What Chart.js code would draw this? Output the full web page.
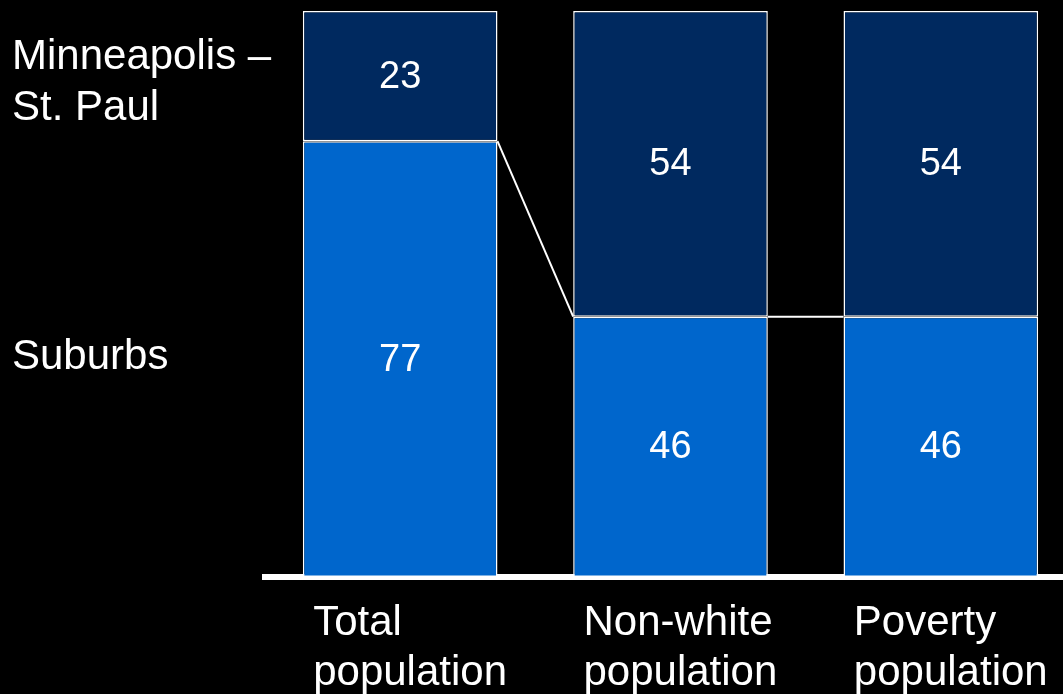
<!DOCTYPE html>
<html>
<head>
<meta charset="utf-8">
<script src="https://cdn.jsdelivr.net/npm/chart.js@4/dist/chart.umd.min.js"></script>
<style>
  html, body { margin: 0; padding: 0; background: #000; overflow: hidden; }
  #wrap { width: 1063px; height: 694px; overflow: hidden; }
  canvas { display: block; }
</style>
</head>
<body>
<div id="wrap"><canvas id="shareChart" width="1076" height="694"></canvas></div>
<script>
const categories = [['Total', 'population'], ['Non-white', 'population'], ['Poverty', 'population']];
const suburbs = [77, 46, 46];
const metro = [23, 54, 54];
const seriesNames = ['Suburbs', ['Minneapolis –', 'St. Paul']];

const FONT = '"Liberation Sans", Arial, sans-serif';
const NAVY = '#00295F';
const BLUE = '#0066CC';

// drop the edge padding Chart.js reserves for overhanging tick labels
const noPadding = (scale) => {
  scale.paddingTop = 0;
  scale.paddingBottom = 0;
  scale.paddingLeft = 0;
  scale.paddingRight = 0;
};

// white connector from the top of one suburbs segment to the next
const connectors = {
  id: 'connectors',
  afterDatasetsDraw(chart) {
    const bars = chart.getDatasetMeta(0).data;
    const ctx = chart.ctx;
    ctx.save();
    ctx.strokeStyle = '#ffffff';
    ctx.lineWidth = 2;
    for (let i = 0; i < bars.length - 1; i++) {
      const a = bars[i], b = bars[i + 1];
      ctx.beginPath();
      ctx.moveTo(a.x + a.width / 2, a.y);
      ctx.lineTo(b.x - b.width / 2, b.y);
      ctx.stroke();
    }
    ctx.restore();
  }
};

// value printed in the middle of each segment
const segmentLabels = {
  id: 'segmentLabels',
  afterDatasetsDraw(chart) {
    const ctx = chart.ctx;
    ctx.save();
    ctx.fillStyle = '#ffffff';
    ctx.font = '38px ' + FONT;
    ctx.textAlign = 'center';
    ctx.textBaseline = 'middle';
    chart.data.datasets.forEach((ds, di) => {
      chart.getDatasetMeta(di).data.forEach((bar, i) => {
        ctx.fillText(String(ds.data[i]), bar.x, (bar.y + bar.base) / 2 + 1);
      });
    });
    ctx.restore();
  }
};

new Chart(document.getElementById('shareChart'), {
  type: 'bar',
  data: {
    labels: categories,
    datasets: [
      { label: 'Suburbs', data: suburbs, backgroundColor: BLUE },
      { label: 'Minneapolis – St. Paul', data: metro, backgroundColor: NAVY }
    ]
  },
  options: {
    responsive: false,
    animation: false,
    devicePixelRatio: 1,
    layout: { padding: { top: 11, left: 0, right: 0, bottom: 0 } },
    datasets: {
      bar: {
        borderColor: '#ffffff',
        borderWidth: 1.5,
        borderSkipped: false,
        barPercentage: 0.72,
        categoryPercentage: 1
      }
    },
    plugins: {
      legend: { display: false },
      tooltip: { enabled: false }
    },
    scales: {
      x: {
        stacked: true,
        z: 1,
        grid: { display: false },
        border: { display: true, color: '#ffffff', width: 6 },
        ticks: {
          color: '#ffffff',
          font: { family: FONT, size: 42, lineHeight: '50px' },
          align: 'start',
          labelOffset: -87,
          padding: 13,
          maxRotation: 0,
          autoSkip: false
        },
        afterFit: (scale) => { scale.height = 117; noPadding(scale); }
      },
      y: {
        stacked: true,
        min: 0,
        max: 100,
        grid: { display: false },
        border: { display: false },
        // series names sit beside the middle of each segment of the first bar;
        // the two-line name hangs a little lower than its segment centre
        afterBuildTicks: (scale) => {
          scale.ticks = [
            { value: suburbs[0] / 2 },
            { value: suburbs[0] + metro[0] / 2 - 1.5 }
          ];
        },
        ticks: {
          color: '#ffffff',
          font: { family: FONT, size: 42, lineHeight: '51px' },
          // mirrored labels are not clipped to the axis box, so the long name fits
          mirror: true,
          padding: -253,
          labelOffset: -2,
          autoSkip: false,
          callback: (value, index) => seriesNames[index]
        },
        afterFit: (scale) => { scale.width = 265; noPadding(scale); }
      }
    }
  },
  plugins: [connectors, segmentLabels]
});
</script>
</body>
</html>
